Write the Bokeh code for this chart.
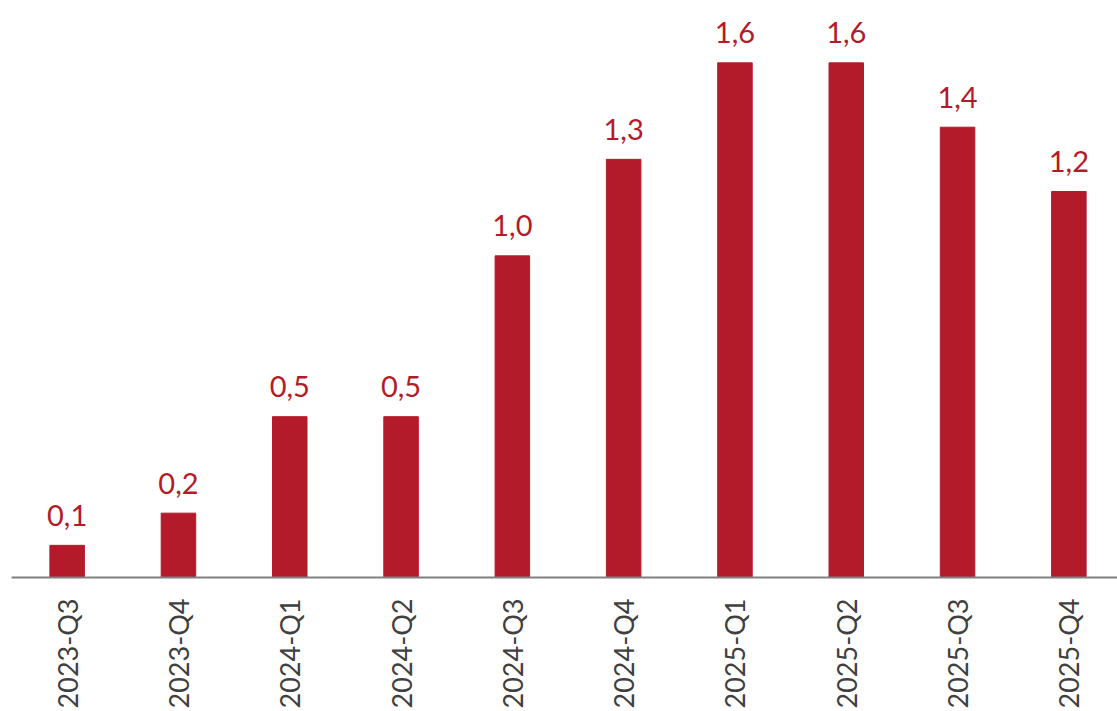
import math
from bokeh.plotting import figure
from bokeh.models import ColumnDataSource, Range1d, FixedTicker
from bokeh.core.properties import value
from bokeh.embed import file_html
from bokeh.resources import INLINE

categories = ["2023-Q3", "2023-Q4", "2024-Q1", "2024-Q2", "2024-Q3",
              "2024-Q4", "2025-Q1", "2025-Q2", "2025-Q3", "2025-Q4"]
values = [0.1, 0.2, 0.5, 0.5, 1.0, 1.3, 1.6, 1.6, 1.4, 1.2]
labels = [f"{v:.1f}".replace(".", ",") for v in values]

BAR = "#B31B2A"
FONT = "Lato"

xs = list(range(len(categories)))
src = ColumnDataSource(dict(x=xs, top=values, label=labels))

p = figure(width=1117, height=711, output_backend="svg", toolbar_location=None,
           x_range=Range1d(-0.5, 9.437), y_range=Range1d(0, 1.769),
           min_border_left=11, min_border_right=0, min_border_top=8, min_border_bottom=0)

p.vbar(x="x", top="top", width=0.31, bottom=0, source=src, color=BAR)
p.text(x="x", y="top", text="label", source=src, text_align="center",
       text_baseline="alphabetic", y_offset=-30, text_color=BAR,
       text_font=value(FONT), text_font_size="29px")

p.yaxis.visible = False
p.xgrid.visible = False
p.ygrid.visible = False
p.outline_line_color = None

ax = p.xaxis[0]
ax.ticker = FixedTicker(ticks=xs)
ax.major_label_overrides = {i: c for i, c in enumerate(categories)}
ax.major_label_orientation = math.pi / 2
ax.major_label_text_font = FONT
ax.major_label_text_font_size = "27px"
ax.major_label_text_color = "#404040"
ax.major_label_standoff = 21
ax.major_tick_line_color = None
ax.minor_tick_line_color = None
ax.major_tick_out = 0
ax.major_tick_in = 0
ax.axis_line_color = "#808080"
ax.axis_line_width = 2

open("out.html", "w").write(file_html(p, INLINE))
